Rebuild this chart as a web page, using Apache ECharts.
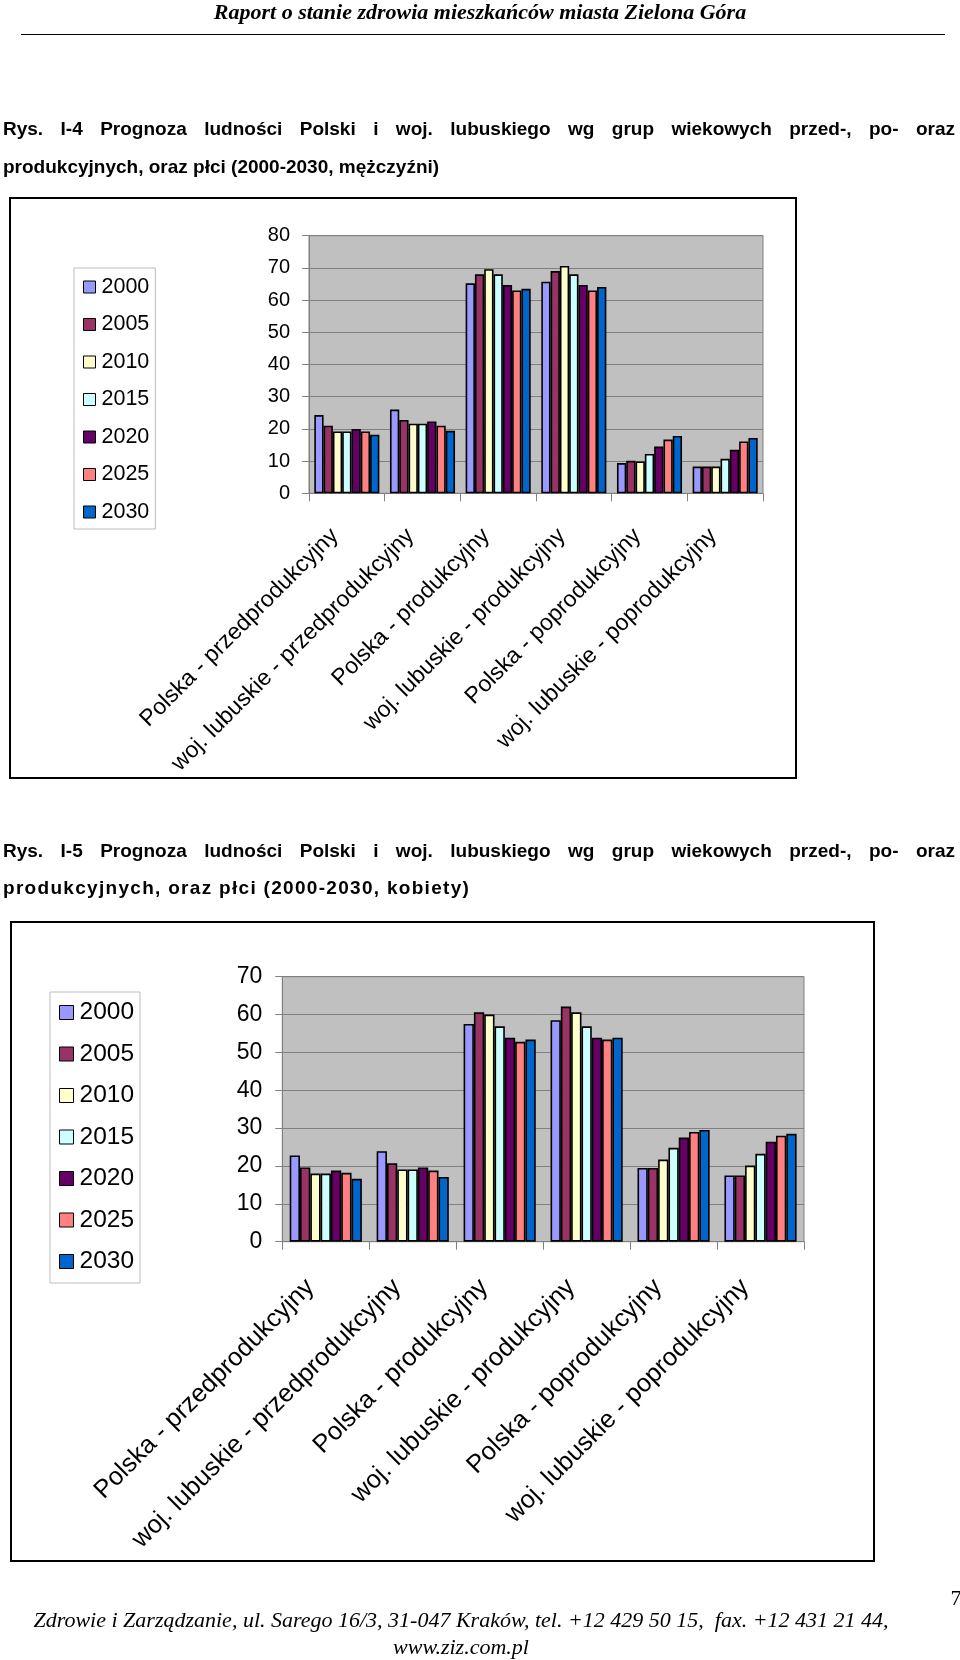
<!DOCTYPE html>
<html>
<head>
<meta charset="utf-8">
<script src="https://cdn.jsdelivr.net/npm/echarts@6/dist/echarts.min.js"></script>
<style>
  html, body { margin:0; padding:0; background:#fff; }
  body { width:960px; height:1660px; position:relative; overflow:hidden; }
  #chart { position:absolute; left:0; top:0; width:960px; height:1660px; }
  .t { position:absolute; white-space:nowrap; color:#000; }
  .hdr { font-family:"Liberation Serif","Times New Roman",serif; font-style:italic; font-weight:bold; font-size:22px; left:0; width:960px; text-align:center; }
  .cap { font-family:"Liberation Sans",Arial,sans-serif; font-weight:bold; font-size:19px; left:3px; }
  .just { width:952px; text-align:justify; text-align-last:justify; white-space:normal; }
  .ftr { font-family:"Liberation Serif","Times New Roman",serif; font-style:italic; font-size:22px; left:0; width:922px; text-align:center; }
  #rule { position:absolute; left:21px; top:34px; width:924px; height:0; border-top:1.5px solid #000; }
</style>
</head>
<body>
<div id="chart"></div>
<div class="t hdr" style="top:-1px;">Raport o stanie zdrowia mieszkańców miasta Zielona Góra</div>
<div id="rule"></div>
<div class="t cap just" style="top:118px;">Rys. I-4 Prognoza ludności Polski i woj. lubuskiego wg grup wiekowych przed-, po- oraz</div>
<div class="t cap" style="top:156px;">produkcyjnych, oraz płci (2000-2030, mężczyźni)</div>
<div class="t cap just" style="top:840px;">Rys. I-5 Prognoza ludności Polski i woj. lubuskiego wg grup wiekowych przed-, po- oraz</div>
<div class="t cap" style="top:877px; letter-spacing:1.3px;">produkcyjnych, oraz płci (2000-2030, kobiety)</div>
<div class="t ftr" style="top:1607px;">Zdrowie i Zarządzanie, ul. Sarego 16/3, 31-047 Kraków, tel. +12 429 50 15,&nbsp; fax. +12 431 21 44,</div>
<div class="t ftr" style="top:1634px;">www.ziz.com.pl</div>
<div class="t ftr" style="top:1585px; left:944px; width:24px; font-style:normal;">7</div>
<script>
// ---- data ----
const categories = ['Polska - przedprodukcyjny', 'woj. lubuskie - przedprodukcyjny', 'Polska - produkcyjny',
                    'woj. lubuskie - produkcyjny', 'Polska - poprodukcyjny', 'woj. lubuskie - poprodukcyjny'];
const years = ['2000', '2005', '2010', '2015', '2020', '2025', '2030'];
const colors = ['#9999FF', '#993366', '#FFFFCC', '#CCFFFF', '#660066', '#FF8080', '#0066CC'];

// men (Rys. I-4)
const m2000 = [24.3, 26.0, 65.2, 65.7, 9.4, 8.3];
const m2005 = [21.0, 22.8, 68.0, 69.0, 10.1, 8.3];
const m2010 = [19.2, 21.6, 69.6, 70.6, 9.9, 8.3];
const m2015 = [19.2, 21.6, 68.0, 68.0, 12.2, 10.7];
const m2020 = [20.0, 22.3, 64.7, 64.7, 14.5, 13.5];
const m2025 = [19.2, 21.0, 63.0, 63.0, 16.7, 16.1];
const m2030 = [18.2, 19.4, 63.5, 64.1, 17.8, 17.2];

// women (Rys. I-5)
const w2000 = [22.8, 23.9, 57.5, 58.5, 19.5, 17.5];
const w2005 = [19.6, 20.7, 60.6, 62.1, 19.5, 17.5];
const w2010 = [18.0, 19.1, 60.0, 60.6, 21.7, 20.1];
const w2015 = [18.0, 19.1, 56.9, 56.9, 24.8, 23.2];
const w2020 = [18.8, 19.6, 53.9, 53.9, 27.5, 26.4];
const w2025 = [18.2, 18.8, 52.8, 53.4, 29.0, 28.0];
const w2030 = [16.6, 17.1, 53.4, 53.9, 29.5, 28.5];

const yTicks1 = [0, 10, 20, 30, 40, 50, 60, 70, 80];
const yTicks2 = [0, 10, 20, 30, 40, 50, 60, 70];

const menData = [m2000, m2005, m2010, m2015, m2020, m2025, m2030];
const womenData = [w2000, w2005, w2010, w2015, w2020, w2025, w2030];

// ---- chart ----
const FONT = '"Liberation Sans", Arial, sans-serif';
const chart = echarts.init(document.getElementById('chart'), null, { renderer: 'canvas' });

function xAxis(gridIndex, fs, margin, padRight) {
  return {
    type: 'category', gridIndex, data: categories,
    axisLine: { show: true, lineStyle: { color: '#808080', width: 1 } },
    axisTick: { show: true, length: 8, lineStyle: { color: '#808080' } },
    axisLabel: { interval: 0, rotate: 45, fontSize: fs, color: '#000', fontFamily: FONT, margin,
                 padding: [0, padRight, 0, 0] }
  };
}
function yAxis(gridIndex, max, fs, margin) {
  return {
    type: 'value', gridIndex, min: 0, max, interval: 10,
    axisLine: { show: true, lineStyle: { color: '#808080', width: 1 } },
    axisTick: { show: true, length: 7, lineStyle: { color: '#808080' } },
    axisLabel: { fontSize: fs, color: '#000', fontFamily: FONT, margin },
    splitLine: { show: true, lineStyle: { color: '#808080', width: 1 } }
  };
}
function legend(left, top, fs, gap, icon, padding) {
  return {
    orient: 'vertical', left, top, padding, itemGap: gap,
    itemWidth: icon, itemHeight: icon, icon: 'rect',
    backgroundColor: '#fff', borderColor: '#bdbdbd', borderWidth: 1, borderRadius: 0,
    itemStyle: { borderColor: '#000', borderWidth: 1 },
    textStyle: { fontSize: fs, lineHeight: fs, color: '#000', fontFamily: FONT, padding: [0, 0, 0, 1] },
    data: years, selectedMode: false
  };
}

const series = [];
years.forEach((y, i) => {
  series.push({
    name: y, type: 'bar', xAxisIndex: 0, yAxisIndex: 0, data: menData[i],
    barGap: '0%', barCategoryGap: '14%',
    itemStyle: { color: colors[i], borderColor: '#000', borderWidth: 1.6 },
    silent: true, animation: false
  });
});
years.forEach((y, i) => {
  series.push({
    name: y, type: 'bar', xAxisIndex: 1, yAxisIndex: 1, data: womenData[i],
    barGap: '0%', barCategoryGap: '17%',
    itemStyle: { color: colors[i], borderColor: '#000', borderWidth: 1.6 },
    silent: true, animation: false
  });
});

chart.setOption({
  animation: false,
  backgroundColor: 'transparent',
  graphic: [
    { type: 'rect', shape: { x: 10, y: 198, width: 786, height: 580 }, style: { fill: 'none', stroke: '#000', lineWidth: 2 }, z: 0 },
    { type: 'rect', shape: { x: 11, y: 922, width: 863, height: 639 }, style: { fill: 'none', stroke: '#000', lineWidth: 2 }, z: 0 }
  ],
  grid: [
    { left: 309, top: 235.7, width: 454, height: 257.6, show: true, backgroundColor: '#C0C0C0', borderColor: '#808080', borderWidth: 1 },
    { left: 282.3, top: 976.7, width: 521.7, height: 265, show: true, backgroundColor: '#C0C0C0', borderColor: '#808080', borderWidth: 1 }
  ],
  legend: [
    legend(74, 268, 21.5, 15.5, 12, [8, 6, 6, 9]),
    legend(50, 992, 24.5, 16.5, 14, [8, 6, 9, 9])
  ],
  xAxis: [xAxis(0, 23, 27, 17), xAxis(1, 25.5, 26, 22)],
  yAxis: [yAxis(0, 80, 20, 19), yAxis(1, 70, 23, 20)],
  series
});
</script>
</body>
</html>
